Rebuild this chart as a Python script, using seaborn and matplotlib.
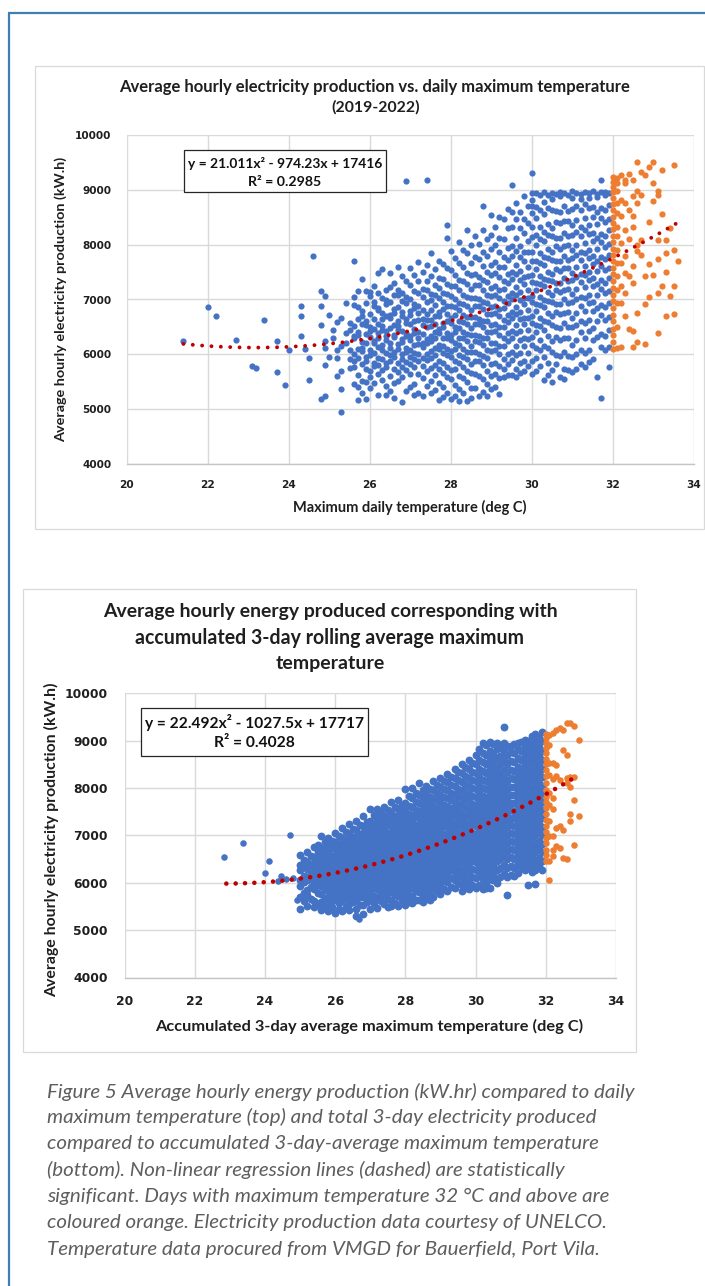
import numpy as np
import pandas as pd
import matplotlib
matplotlib.use("Agg")
import matplotlib.pyplot as plt
import seaborn as sns
from matplotlib.patches import Rectangle
from matplotlib.lines import Line2D

# ---------------- DATA ----------------
top_title = ["Average hourly electricity production vs. daily maximum temperature", "(2019-2022)"]
top_xlabel = "Maximum daily temperature (deg C)"
ylabel = "Average hourly electricity production (kW.h)"
top_eq = ["y = 21.011x\u00b2 - 974.23x + 17416", "R\u00b2 = 0.2985"]
top_coef = [21.011, -974.23, 17416]
top_fit_range = [21.4, 33.6]

bot_title = ["Average hourly energy produced corresponding with",
             "accumulated 3-day rolling average maximum", "temperature"]
bot_xlabel = "Accumulated 3-day average maximum temperature (deg C)"
bot_eq = ["y = 22.492x\u00b2 - 1027.5x + 17717", "R\u00b2 = 0.4028"]
bot_coef = [22.492, -1027.5, 17717]
bot_fit_range = [22.9, 32.8]

xticks = [20, 22, 24, 26, 28, 30, 32, 34]
yticks = [4000, 5000, 6000, 7000, 8000, 9000, 10000]

caption = [
    "Figure 5 Average hourly energy production (kW.hr) compared to daily",
    "maximum temperature (top) and total 3-day electricity produced",
    "compared to accumulated 3-day-average maximum temperature",
    "(bottom). Non-linear regression lines (dashed) are statistically",
    "significant. Days with maximum temperature 32 \u00b0C and above are",
    "coloured orange. Electricity production data courtesy of UNELCO.",
    "Temperature data procured from VMGD for Bauerfield, Port Vila.",
]

# top chart: isolated cool days
top_sparse_temp = [21.4, 22.0, 22.2, 22.7, 23.1, 23.2, 23.4, 23.7, 23.7, 23.9,
                   24.0, 24.3, 24.3, 24.3, 24.4, 24.5, 24.5, 24.6, 24.8, 24.9,
                   24.8, 24.8, 24.9, 24.9, 25.0, 24.8, 24.9, 24.9, 25.2, 25.3,
                   25.2, 25.2, 25.2, 25.3, 25.3, 25.4, 25.5, 25.4, 25.4, 25.5,
                   25.5, 25.5, 25.1, 25.1, 25.3, 25.3, 25.5, 25.0]
top_sparse_prod = [6240, 6870, 6700, 6270, 5780, 5750, 6630, 6250, 5680, 5440,
                   6080, 6890, 6700, 6330, 6090, 5930, 5530, 7800, 7150, 7060,
                   6890, 6540, 6240, 6120, 6710, 5190, 5240, 5800, 6590, 6670,
                   6070, 5930, 5610, 4950, 5360, 6930, 6580, 6390, 6210, 6070,
                   5910, 5750, 6450, 6300, 6150, 5700, 6450, 5950]

# top chart: blue days, grouped by temperature (0.1 deg C)
top_blue_temp = [25.6, 25.7, 25.8, 25.9, 26.0, 26.1, 26.2, 26.3, 26.4, 26.5,
                 26.6, 26.7, 26.8, 26.9, 27.0, 27.1, 27.2, 27.3, 27.4, 27.5,
                 27.6, 27.7, 27.8, 27.9, 28.0, 28.1, 28.2, 28.3, 28.4, 28.5,
                 28.6, 28.7, 28.8, 28.9, 29.0, 29.1, 29.2, 29.3, 29.4, 29.5,
                 29.6, 29.7, 29.8, 29.9, 30.0, 30.1, 30.2, 30.3, 30.4, 30.5,
                 30.6, 30.7, 30.8, 30.9, 31.0, 31.1, 31.2, 31.3, 31.4, 31.5,
                 31.6, 31.7, 31.8, 31.9]
top_blue_prod = [
    [7700, 7050, 6900, 6520, 6330, 6290, 6010, 5870, 5760, 5460],
    [7160, 6870, 6640, 6410, 6350, 6090, 5940, 5620, 5410, 5170],
    [7380, 6790, 6700, 6560, 6230, 6120, 6060, 5820, 5510, 5300],
    [7150, 6940, 6610, 6540, 6370, 6200, 5950, 5880, 5730, 5490, 5180],
    [7130, 7060, 6740, 6490, 6420, 6310, 6080, 5990, 5690, 5580, 5380],
    [7250, 6960, 6880, 6640, 6470, 6250, 6210, 6020, 5850, 5790, 5470],
    [7480, 7110, 6850, 6800, 6560, 6380, 6290, 6140, 5930, 5810, 5640, 5250],
    [7560, 7030, 6760, 6650, 6510, 6450, 6170, 6080, 5920, 5710, 5530],
    [7170, 6990, 6910, 6700, 6420, 6330, 6260, 6030, 5840, 5760, 5420, 5260],
    [7490, 7220, 6950, 6720, 6660, 6480, 6200, 6110, 5990, 5870, 5600, 5340],
    [7310, 7080, 6830, 6750, 6540, 6360, 6310, 6050, 5960, 5730, 5470, 5210],
    [7590, 7180, 7090, 6860, 6610, 6520, 6440, 6190, 6100, 5850, 5670, 5520],
    [7420, 7120, 6980, 6770, 6700, 6430, 6280, 6230, 6000, 5910, 5770, 5580, 5130],
    [9160, 7340, 7040, 6930, 6650, 6580, 6390, 6330, 6120, 6050, 5860, 5710, 5340],
    [7580, 7260, 7000, 6790, 6720, 6560, 6340, 6270, 6080, 5950, 5820, 5650, 5410],
    [7440, 7150, 6920, 6840, 6600, 6470, 6390, 6170, 6030, 5920, 5760, 5460, 5250],
    [7680, 7330, 7110, 6880, 6760, 6630, 6400, 6290, 6180, 6010, 5880, 5640, 5300],
    [7500, 7190, 7050, 6800, 6650, 6540, 6370, 6210, 6140, 5930, 5790, 5560, 5240],
    [9180, 7630, 7330, 7180, 6950, 6740, 6620, 6490, 6280, 6200, 6000, 5900, 5700, 5420],
    [7840, 7420, 7100, 6990, 6810, 6630, 6510, 6340, 6240, 6060, 5940, 5750, 5520, 5290],
    [7560, 7260, 7090, 6900, 6690, 6560, 6400, 6290, 6120, 5990, 5810, 5630, 5350],
    [7700, 7400, 7210, 7020, 6780, 6690, 6460, 6380, 6170, 6090, 5870, 5740, 5470, 5160],
    [7640, 7380, 7110, 6950, 6830, 6570, 6500, 6300, 6150, 6020, 5840, 5660, 5400, 5220],
    [8350, 8130, 7580, 7290, 7100, 6880, 6740, 6600, 6390, 6300, 6090, 5980, 5760, 5590, 5300],
    [7880, 7540, 7240, 7060, 6880, 6660, 6580, 6360, 6270, 6060, 5960, 5720, 5550, 5180],
    [7760, 7450, 7250, 7000, 6860, 6710, 6490, 6410, 6200, 6100, 5870, 5730, 5440, 5240],
    [8050, 7660, 7360, 7170, 6930, 6800, 6600, 6480, 6300, 6170, 5990, 5840, 5610, 5370, 5150],
    [7900, 7590, 7330, 7080, 6920, 6710, 6590, 6400, 6290, 6100, 5960, 5760, 5560, 5290],
    [8270, 7840, 7490, 7290, 7040, 6890, 6680, 6560, 6370, 6250, 6050, 5910, 5700, 5490, 5150],
    [8000, 7660, 7450, 7190, 7030, 6810, 6680, 6480, 6360, 6160, 6040, 5830, 5660, 5390, 5210],
    [8150, 7780, 7460, 7270, 7030, 6890, 6680, 6560, 6360, 6240, 6040, 5880, 5650, 5380],
    [8020, 7730, 7410, 7260, 7000, 6880, 6640, 6550, 6330, 6230, 6000, 5880, 5600, 5240],
    [8710, 8260, 7860, 7620, 7350, 7180, 6950, 6820, 6610, 6490, 6290, 6170, 5970, 5800, 5550, 5320],
    [8100, 7800, 7500, 7320, 7080, 6940, 6730, 6610, 6410, 6290, 6080, 5940, 5700, 5450, 5240],
    [8550, 8180, 7920, 7630, 7450, 7210, 7070, 6860, 6730, 6530, 6410, 6200, 6060, 5830, 5610, 5360],
    [8320, 7990, 7680, 7490, 7240, 7090, 6880, 6750, 6550, 6420, 6210, 6070, 5840, 5650, 5400],
    [8500, 8130, 7870, 7590, 7410, 7170, 7030, 6820, 6690, 6490, 6360, 6150, 6010, 5780, 5570, 5280],
    [8460, 8100, 7780, 7590, 7340, 7190, 6970, 6840, 6630, 6500, 6290, 6150, 5920, 5730, 5580],
    [8650, 8300, 7940, 7720, 7460, 7300, 7070, 6930, 6720, 6590, 6380, 6240, 6010, 5830, 5620],
    [9090, 8600, 8330, 7980, 7790, 7510, 7370, 7120, 7000, 6770, 6660, 6420, 6300, 6050, 5900, 5630],
    [8760, 8470, 8120, 7890, 7630, 7460, 7230, 7090, 6870, 6740, 6530, 6390, 6160, 5990, 5730, 5590],
    [8600, 8300, 7980, 7780, 7520, 7360, 7130, 6990, 6780, 6640, 6420, 6270, 6030, 5840, 5660],
    [8880, 8460, 8210, 7870, 7700, 7410, 7280, 7030, 6910, 6660, 6550, 6300, 6160, 5870, 5700],
    [8700, 8400, 8060, 7860, 7590, 7420, 7180, 7030, 6810, 6670, 6440, 6280, 6020, 5780],
    [9300, 8940, 8820, 8700, 8580, 8320, 8140, 7860, 7710, 7450, 7320, 7070, 6950, 6700, 6580, 6320, 6170, 5870, 5650],
    [8950, 8680, 8490, 8170, 7990, 7710, 7560, 7300, 7170, 6920, 6790, 6540, 6400, 6120, 5930, 5700],
    [8910, 8630, 8320, 8110, 7840, 7670, 7430, 7280, 7050, 6900, 6670, 6510, 6260, 6070, 5790],
    [8960, 8770, 8560, 8230, 8060, 7780, 7630, 7370, 7240, 6990, 6860, 6600, 6450, 6160, 5960, 5530],
    [8900, 8670, 8380, 8180, 7920, 7750, 7510, 7360, 7130, 6980, 6750, 6590, 6330, 6120, 5840, 5620],
    [8950, 8840, 8630, 8310, 8150, 7860, 7720, 7460, 7330, 7080, 6950, 6690, 6540, 6250, 6050, 5720, 5490],
    [8920, 8610, 8420, 8130, 7970, 7700, 7560, 7310, 7180, 6920, 6770, 6490, 6310, 5980, 5830],
    [8960, 8890, 8600, 8390, 8120, 7930, 7700, 7520, 7300, 7140, 6910, 6730, 6480, 6260, 5970, 5580],
    [8940, 8710, 8430, 8220, 7980, 7790, 7570, 7390, 7180, 7000, 6760, 6570, 6300, 6050, 5740, 5550],
    [8910, 8620, 8440, 8150, 7990, 7720, 7580, 7330, 7190, 6930, 6780, 6490, 6300, 5970, 5710],
    [8970, 8860, 8650, 8350, 8180, 7900, 7750, 7490, 7360, 7100, 6950, 6670, 6490, 6170, 5950, 5680],
    [8940, 8710, 8450, 8240, 8000, 7810, 7590, 7410, 7190, 7000, 6760, 6540, 6260, 6000, 5730],
    [8920, 8840, 8630, 8320, 8150, 7870, 7720, 7460, 7320, 7050, 6890, 6600, 6410, 6070, 5820],
    [8960, 8740, 8480, 8270, 8030, 7840, 7620, 7440, 7220, 7030, 6790, 6570, 6290, 6020, 5760],
    [8950, 8860, 8660, 8360, 8190, 7910, 7760, 7500, 7360, 7090, 6930, 6630, 6430, 6080, 5860],
    [8970, 8690, 8510, 8220, 8060, 7790, 7650, 7390, 7240, 6960, 6790, 6480, 6270, 5920],
    [8920, 8870, 8600, 8380, 8130, 7930, 7700, 7520, 7290, 7090, 6840, 6610, 6320, 5580],
    [9180, 8960, 8670, 8490, 8200, 8040, 7770, 7620, 7350, 7190, 6900, 6710, 6370, 6130, 5200],
    [8960, 8900, 8630, 8410, 8160, 7960, 7730, 7540, 7310, 7110, 6860, 6630, 6340, 6080],
    [8950, 8730, 8470, 8260, 8010, 7810, 7580, 7390, 7150, 6940, 6680, 6440, 6140, 5760],
]

# top chart: orange days (32 deg C and above)
top_orange_temp = [32.0, 32.1, 32.2, 32.3, 32.4, 32.5, 32.6, 32.7, 32.8, 32.9,
                   33.0, 33.1, 33.2, 33.3, 33.4, 33.5, 33.6]
top_orange_prod = [
    [9240, 9150, 9060, 8960, 8850, 8740, 8630, 8510, 8400, 8280, 8160, 8040, 7930, 7810,
     7700, 7580, 7460, 7340, 7210, 7090, 6970, 6850, 6720, 6600, 6470, 6350, 6230, 6100],
    [9210, 9120, 8980, 8760, 8580, 8330, 8150, 7910, 7670, 7420, 7180, 6940, 6490, 6120],
    [9270, 8820, 8520, 8030, 7670, 7240, 6930, 6140],
    [9180, 9120, 8760, 8270, 7790, 7490, 7120, 6700],
    [9290, 8640, 8100, 7430, 6470],
    [9180, 8880, 8520, 8330, 7610, 7300, 6420, 6140],
    [9500, 8970, 8760, 8000, 7880, 6760, 6230],
    [9330, 8910, 8090, 7820],
    [9270, 7430, 6920, 6190],
    [9410, 8420, 7650, 7040],
    [9500, 9120, 8790, 7440],
    [8970, 8910, 8090, 7730, 7110, 6390],
    [9360, 8560, 7240],
    [8090, 7850, 6700, 7500],
    [7060, 8300],
    [9450, 7900, 7240, 6730],
    [7700],
]

# bottom chart: isolated cool periods
bot_sparse_temp = [22.84, 23.38, 24.0, 24.11, 24.36, 24.45, 24.71, 24.9, 24.8, 24.6, 26.67]
bot_sparse_prod = [6540, 6840, 6210, 6450, 6030, 6150, 7000, 5630, 6100, 6080, 5230]

bot_blue_temp = [25.0, 25.1, 25.2, 25.3, 25.4, 25.5, 25.6, 25.7, 25.8, 25.9,
                 26.0, 26.1, 26.2, 26.3, 26.4, 26.5, 26.6, 26.7, 26.8, 26.9,
                 27.0, 27.1, 27.2, 27.3, 27.4, 27.5, 27.6, 27.7, 27.8, 27.9,
                 28.0, 28.1, 28.2, 28.3, 28.4, 28.5, 28.6, 28.7, 28.8, 28.9,
                 29.0, 29.1, 29.2, 29.3, 29.4, 29.5, 29.6, 29.7, 29.8, 29.9,
                 30.0, 30.1, 30.2, 30.3, 30.4, 30.5, 30.6, 30.7, 30.8, 30.9,
                 31.0, 31.1, 31.2, 31.3, 31.4, 31.5, 31.6, 31.7, 31.8, 31.9]
bot_blue_prod = [
    [6590, 6380, 6270, 6060, 5930, 5690, 5450],
    [6480, 6350, 6140, 6010, 5790, 5610],
    [6650, 6440, 6300, 6120, 6050, 5840, 5740, 5520],
    [6560, 6400, 6190, 6070, 5910, 5660],
    [6760, 6540, 6420, 6310, 6160, 6000, 5870, 5620, 5480],
    [6800, 6640, 6450, 6360, 6230, 6080, 5950, 5790, 5560],
    [6980, 6730, 6560, 6470, 6320, 6190, 6060, 5930, 5760, 5600, 5430],
    [6860, 6690, 6590, 6420, 6280, 6140, 6020, 5870, 5680, 5500],
    [6950, 6780, 6650, 6510, 6390, 6240, 6100, 5990, 5820, 5700, 5560, 5400],
    [6890, 6730, 6570, 6450, 6300, 6170, 6050, 5900, 5760, 5620, 5480],
    [7050, 6860, 6740, 6590, 6480, 6330, 6210, 6060, 5940, 5800, 5660, 5370],
    [6990, 6810, 6670, 6540, 6410, 6260, 6140, 5990, 5860, 5720, 5580, 5450],
    [7150, 6950, 6820, 6700, 6550, 6420, 6290, 6170, 6020, 5900, 5760, 5610, 5400],
    [7080, 6900, 6770, 6620, 6490, 6350, 6230, 6090, 5960, 5830, 5680, 5480],
    [7240, 7030, 6890, 6760, 6630, 6500, 6370, 6240, 6110, 5980, 5840, 5700, 5560, 5420],
    [7140, 6970, 6830, 6690, 6560, 6430, 6300, 6160, 6030, 5890, 5750, 5600],
    [7300, 7110, 6970, 6840, 6710, 6580, 6450, 6310, 6180, 6050, 5910, 5770, 5610, 5450, 5300],
    [7210, 7040, 6900, 6760, 6630, 6500, 6370, 6240, 6110, 5970, 5830, 5690, 5530],
    [7400, 7190, 7050, 6910, 6780, 6650, 6520, 6390, 6250, 6120, 5990, 5850, 5700, 5530, 5350],
    [7290, 7120, 6980, 6840, 6710, 6580, 6440, 6310, 6180, 6040, 5910, 5770, 5600],
    [7550, 7310, 7160, 7020, 6880, 6750, 6620, 6490, 6350, 6220, 6090, 5950, 5810, 5660, 5450],
    [7430, 7250, 7100, 6960, 6820, 6690, 6550, 6420, 6290, 6150, 6020, 5880, 5730, 5570],
    [7550, 7370, 7220, 7080, 6940, 6800, 6670, 6540, 6400, 6270, 6140, 6000, 5860, 5710, 5470],
    [7480, 7300, 7150, 7010, 6870, 6730, 6600, 6460, 6330, 6200, 6060, 5920, 5780, 5620],
    [7600, 7420, 7270, 7120, 6980, 6840, 6710, 6570, 6440, 6300, 6170, 6030, 5890, 5740, 5560],
    [7530, 7360, 7210, 7060, 6920, 6780, 6640, 6510, 6370, 6240, 6100, 5960, 5810, 5650, 5480],
    [7700, 7480, 7330, 7190, 7050, 6910, 6770, 6640, 6500, 6370, 6230, 6090, 5950, 5800, 5640, 5500],
    [7590, 7420, 7270, 7130, 6990, 6850, 6720, 6580, 6450, 6310, 6170, 6030, 5890, 5740, 5580],
    [7750, 7560, 7400, 7260, 7120, 6980, 6840, 6700, 6570, 6430, 6290, 6150, 6010, 5870, 5720, 5520],
    [7640, 7470, 7330, 7190, 7050, 6910, 6770, 6630, 6490, 6350, 6220, 6080, 5940, 5790, 5640],
    [7980, 7690, 7510, 7360, 7220, 7080, 6940, 6800, 6660, 6520, 6380, 6240, 6100, 5960, 5810, 5660, 5540],
    [7840, 7620, 7450, 7300, 7160, 7020, 6880, 6740, 6600, 6460, 6320, 6180, 6040, 5900, 5750, 5590],
    [8000, 7780, 7600, 7440, 7290, 7150, 7010, 6870, 6730, 6590, 6450, 6310, 6170, 6030, 5880, 5730, 5570],
    [7890, 7710, 7540, 7380, 7230, 7090, 6950, 6810, 6670, 6530, 6390, 6250, 6110, 5970, 5820, 5640],
    [8100, 7860, 7680, 7520, 7370, 7220, 7080, 6940, 6800, 6660, 6520, 6380, 6240, 6100, 5960, 5810, 5640],
    [7950, 7770, 7610, 7460, 7310, 7160, 7020, 6880, 6740, 6600, 6460, 6320, 6180, 6040, 5890, 5720, 5600],
    [8050, 7870, 7710, 7550, 7400, 7250, 7110, 6970, 6830, 6690, 6550, 6410, 6270, 6130, 5980, 5820, 5650],
    [7990, 7820, 7660, 7500, 7350, 7200, 7060, 6920, 6780, 6640, 6500, 6360, 6220, 6070, 5920, 5760, 5640],
    [8150, 7960, 7790, 7630, 7470, 7320, 7170, 7030, 6890, 6750, 6610, 6470, 6330, 6190, 6040, 5880, 5700],
    [8070, 7900, 7740, 7580, 7430, 7280, 7130, 6990, 6850, 6710, 6570, 6430, 6290, 6140, 5990, 5820],
    [8210, 8030, 7860, 7700, 7540, 7390, 7240, 7090, 6950, 6810, 6670, 6530, 6390, 6250, 6100, 5940, 5760],
    [8140, 7970, 7810, 7650, 7490, 7340, 7190, 7040, 6900, 6760, 6620, 6480, 6340, 6190, 6040, 5870],
    [8300, 8120, 7950, 7790, 7630, 7470, 7320, 7170, 7020, 6880, 6740, 6600, 6460, 6320, 6170, 6010, 5830],
    [8240, 8070, 7900, 7740, 7580, 7430, 7280, 7130, 6980, 6840, 6700, 6560, 6410, 6260, 6100, 5920],
    [8400, 8210, 8040, 7870, 7710, 7550, 7400, 7250, 7100, 6950, 6810, 6670, 6520, 6370, 6220, 6060, 5880],
    [8330, 8160, 7990, 7830, 7670, 7510, 7360, 7210, 7060, 6910, 6770, 6620, 6470, 6320, 6160, 5990],
    [8510, 8310, 8130, 7960, 7800, 7640, 7480, 7330, 7180, 7030, 6880, 6730, 6580, 6430, 6280, 6120, 5950, 5830],
    [8440, 8260, 8090, 7920, 7760, 7600, 7440, 7290, 7140, 6990, 6840, 6690, 6540, 6390, 6230, 6060, 5900],
    [8590, 8400, 8220, 8050, 7880, 7720, 7560, 7400, 7250, 7100, 6950, 6800, 6650, 6500, 6340, 6180, 6010, 5860],
    [8520, 8340, 8170, 8000, 7830, 7670, 7510, 7360, 7210, 7060, 6910, 6760, 6610, 6450, 6290, 6120, 5950],
    [8700, 8500, 8320, 8150, 7980, 7810, 7650, 7490, 7340, 7190, 7040, 6890, 6740, 6590, 6430, 6270, 6100, 5880],
    [8820, 8600, 8410, 8230, 8060, 7890, 7730, 7570, 7410, 7260, 7110, 6960, 6810, 6650, 6490, 6330, 6160, 5960],
    [8960, 8740, 8540, 8360, 8180, 8010, 7840, 7680, 7520, 7360, 7210, 7060, 6910, 6750, 6590, 6430, 6260, 6080, 5870],
    [8900, 8690, 8500, 8320, 8140, 7970, 7800, 7640, 7480, 7320, 7170, 7020, 6860, 6700, 6540, 6370, 6190, 5990, 5880],
    [8980, 8780, 8590, 8410, 8230, 8060, 7890, 7720, 7560, 7400, 7250, 7090, 6930, 6770, 6610, 6440, 6260, 6070, 5900],
    [8920, 8720, 8530, 8350, 8170, 8000, 7830, 7670, 7510, 7350, 7190, 7030, 6870, 6710, 6540, 6370, 6190, 6050],
    [8950, 8830, 8640, 8450, 8270, 8090, 7920, 7750, 7590, 7430, 7270, 7110, 6950, 6790, 6620, 6450, 6270, 6080, 6000],
    [8870, 8680, 8500, 8320, 8140, 7970, 7800, 7640, 7480, 7320, 7160, 7000, 6840, 6670, 6500, 6320, 6130],
    [9280, 8960, 8760, 8570, 8390, 8210, 8040, 7870, 7700, 7540, 7380, 7220, 7060, 6900, 6730, 6560, 6380, 6190],
    [8880, 8690, 8510, 8330, 8150, 7980, 7810, 7650, 7490, 7330, 7170, 7010, 6840, 6670, 6500, 6320, 6130, 5740],
    [8880, 8760, 8570, 8390, 8210, 8030, 7860, 7690, 7530, 7370, 7210, 7050, 6880, 6710, 6540, 6360, 6170],
    [8930, 8740, 8550, 8370, 8190, 8020, 7850, 7680, 7520, 7360, 7200, 7030, 6860, 6690, 6510, 6320, 6150],
    [8950, 8830, 8640, 8450, 8270, 8090, 7920, 7750, 7580, 7420, 7260, 7090, 6920, 6750, 6580, 6400, 6210],
    [8980, 8780, 8590, 8400, 8220, 8040, 7870, 7700, 7530, 7370, 7200, 7030, 6860, 6690, 6510, 6330],
    [9010, 8880, 8690, 8500, 8320, 8140, 7960, 7790, 7620, 7450, 7290, 7120, 6950, 6780, 6600, 6420, 6280],
    [8990, 8800, 8610, 8420, 8240, 8060, 7880, 7710, 7540, 7370, 7200, 7030, 6860, 6680, 6500, 6310, 5960],
    [9100, 8910, 8720, 8530, 8340, 8160, 7980, 7810, 7640, 7470, 7300, 7130, 6950, 6770, 6590, 6400, 6220],
    [9140, 8980, 8780, 8590, 8400, 8220, 8040, 7860, 7690, 7520, 7350, 7180, 7000, 6820, 6640, 6450, 6260, 5980],
    [9050, 8860, 8670, 8480, 8290, 8110, 7930, 7760, 7590, 7420, 7250, 7070, 6890, 6710, 6530, 6350],
    [9190, 8990, 8790, 8600, 8410, 8230, 8050, 7870, 7700, 7530, 7360, 7180, 7000, 6820, 6640, 6450, 6270],
]

bot_orange_temp = [32.0, 32.1, 32.2, 32.3, 32.4, 32.5, 32.6, 32.7, 32.8, 32.95]
bot_orange_prod = [
    [9150, 9050, 8950, 8850, 8750, 8620, 8500, 8380, 8250, 8100, 7950, 7820,
     7700, 7580, 7450, 7330, 7200, 7080, 6950, 6830, 6700, 6580, 6450],
    [9120, 8900, 8530, 8280, 7900, 7650, 7300, 6980, 6460, 6060],
    [9170, 8530, 8200, 7800, 7550, 6980, 6700, 6560],
    [9230, 8490, 8250, 7160, 6770],
    [9260, 8180, 7190, 6740],
    [9230, 8810, 7120, 6530],
    [9380, 8700, 8210, 8100, 6500],
    [9370, 8230, 8030, 7460, 7300],
    [9310, 8230, 7750, 6790],
    [9020, 7420],
]


# ---------------- HELPERS ----------------
def to_frame(temps, prods):
    rows = [(t, p) for t, col in zip(temps, prods) for p in col]
    return pd.DataFrame(rows, columns=["temp", "prod"])


top_sparse = pd.DataFrame({"temp": top_sparse_temp, "prod": top_sparse_prod})
top_blue = to_frame(top_blue_temp, top_blue_prod)
top_orange = to_frame(top_orange_temp, top_orange_prod)
bot_sparse = pd.DataFrame({"temp": bot_sparse_temp, "prod": bot_sparse_prod})
bot_blue = to_frame(bot_blue_temp, bot_blue_prod)
bot_orange = to_frame(bot_orange_temp, bot_orange_prod)

BLUE = "#4472C4"
ORANGE = "#ED7D31"
TREND = "#C00000"
GRID = "#D9D9D9"
TXT = "#1f1f1f"

sns.set_theme(style="white")
plt.rcParams["font.family"] = ["Lato", "DejaVu Sans"]

W, H = 705, 1286
fig = plt.figure(figsize=(W / 100, H / 100), dpi=100)
fig.patch.set_facecolor("white")


def fx(x):
    return x / W


def fy(y):
    return 1 - y / H


renderer = fig.canvas.get_renderer()


def put(x, y, s, width, rot=0, ha="center", size=None, **kw):
    t = fig.text(fx(x), fy(y), s, ha=ha, va="center", rotation=rot,
                 fontsize=10, **kw)
    if size is None:
        bb = t.get_window_extent(renderer)
        cur = bb.height if rot else bb.width
        size = 10 * width / cur
    t.set_fontsize(size)
    return t


def frame(l, t, r, b, ec, lw, fc="none", z=1):
    fig.add_artist(Rectangle((fx(l), fy(b)), fx(r) - fx(l), (b - t) / H,
                             transform=fig.transFigure, fc=fc, ec=ec, lw=lw, zorder=z))


def make_axes(l, t, r, b, layers, coef, rng, tick_size, xpad, ypad, trend_lw, trend_gap):
    ax = fig.add_axes([fx(l), fy(b), fx(r) - fx(l), (b - t) / H])
    ax.set_facecolor("white")
    for df, col, size in layers:
        sns.scatterplot(data=df, x="temp", y="prod", color=col, s=size, linewidth=0,
                        ax=ax, legend=False, zorder=2)
    xs = np.linspace(rng[0], rng[1], 300)
    ax.plot(xs, np.polyval(coef, xs), color=TREND, lw=trend_lw,
            ls=(0, (0.01, trend_gap)), dash_capstyle="round", zorder=3)
    ax.set_xlim(xticks[0], xticks[-1])
    ax.set_ylim(yticks[0], yticks[-1])
    ax.set_xticks(xticks)
    ax.set_yticks(yticks)
    ax.set_xticklabels([str(v) for v in xticks])
    ax.set_yticklabels([str(v) for v in yticks])
    ax.set_xlabel("")
    ax.set_ylabel("")
    ax.grid(True, color=GRID, lw=1.0)
    ax.set_axisbelow(True)
    for s in ["left", "right", "top"]:
        ax.spines[s].set_visible(False)
    ax.spines["bottom"].set_color("#C4C4C4")
    ax.spines["bottom"].set_linewidth(1.0)
    ax.tick_params(axis="x", length=0, pad=xpad, labelsize=tick_size, labelcolor=TXT)
    ax.tick_params(axis="y", length=0, pad=ypad, labelsize=tick_size, labelcolor=TXT)
    for lab in ax.get_xticklabels() + ax.get_yticklabels():
        lab.set_fontfamily("DejaVu Sans")
        lab.set_fontweight("bold")
    return ax


# page border (blue rule on top and left)
fig.add_artist(Line2D([fx(8), fx(705)], [fy(13.3), fy(13.3)], transform=fig.transFigure,
                      color="#3f7db4", lw=1.6, solid_capstyle="butt"))
fig.add_artist(Line2D([fx(9), fx(9)], [fy(12.5), fy(1286)], transform=fig.transFigure,
                      color="#3f7db4", lw=1.6, solid_capstyle="butt"))

# ---------------- TOP CHART ----------------
frame(35, 66, 703.5, 529, "#D9D9D9", 0.9)
ax1 = make_axes(126.7, 135, 694, 464,
                [(top_sparse, BLUE, 20), (top_blue, BLUE, 20), (top_orange, ORANGE, 20)],
                top_coef, top_fit_range, 7.6, 11.5, 11.2, 2.8, 2.4)
put(374.8, 87, top_title[0], 514, fontweight="bold", color=TXT)
put(376, 107, top_title[1], 88.6, fontweight="bold", color=TXT)
put(410, 507, top_xlabel, 234, fontweight="bold", color=TXT)
put(61, 299, ylabel, 285, rot=90, fontweight="bold", color=TXT)
frame(183.5, 150.5, 385.8, 192, "#262626", 0.9, fc="white", z=5)
put(284.8, 163.3, top_eq[0], 194, fontweight="bold", color="#111111", zorder=6)
put(285, 181.7, top_eq[1], 73, fontweight="bold", color="#111111", zorder=6)

# ---------------- BOTTOM CHART ----------------
frame(23.4, 589, 636, 1052, "#D9D9D9", 0.9)
ax2 = make_axes(124.5, 693.3, 616, 977.5,
                [(bot_sparse, BLUE, 22), (bot_blue, BLUE, 32), (bot_orange, ORANGE, 22)],
                bot_coef, bot_fit_range, 8.9, 12.4, 12.0, 3.3, 2.03)
put(330, 611.7, bot_title[0], 457, fontweight="bold", color=TXT)
put(329.7, 637.7, bot_title[1], 389, fontweight="bold", color=TXT)
put(329.8, 663.3, bot_title[2], 109, fontweight="bold", color=TXT)
put(369, 1026, bot_xlabel, 428, fontweight="bold", color=TXT)
put(52, 840, ylabel, 316, rot=90, fontweight="bold", color=TXT)
frame(140.7, 708.3, 368.3, 755.7, "#262626", 0.9, fc="white", z=5)
put(254.5, 722.7, bot_eq[0], 219, fontweight="bold", color="#111111", zorder=6)
put(254.5, 742.7, bot_eq[1], 81, fontweight="bold", color="#111111", zorder=6)

# ---------------- CAPTION ----------------
cap_y = [1091.7, 1117.3, 1144, 1170, 1196.7, 1222.7, 1249.3]
first = put(47, cap_y[0], caption[0], 587, ha="left", fontstyle="italic",
            fontweight="normal", color="#5e5e5e")
for yy, line in zip(cap_y[1:], caption[1:]):
    put(47, yy, line, 0, ha="left", size=first.get_fontsize(), fontstyle="italic",
        fontweight="normal", color="#5e5e5e")

fig.savefig("out.png", dpi=100, facecolor="white")
